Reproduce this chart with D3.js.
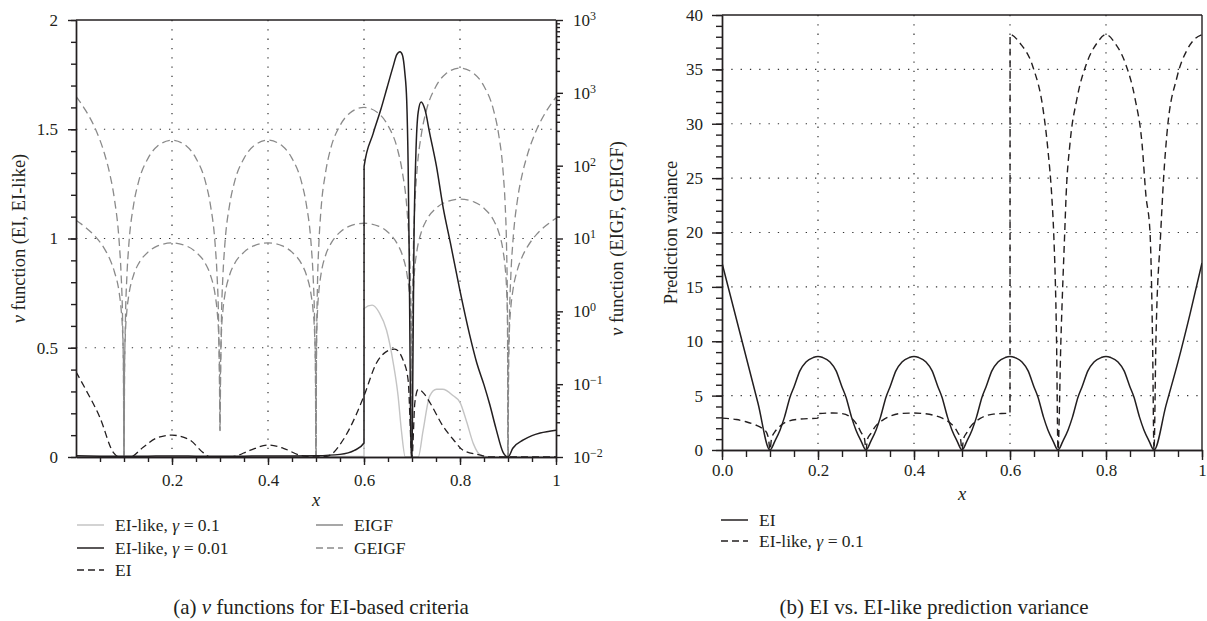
<!DOCTYPE html>
<html>
  <head>
    <meta charset="utf-8">
    <script type="text/javascript" src="https://cdn.jsdelivr.net/npm/d3@7"></script>
    <style type="text/css">
      body { margin: 0; background: #ffffff; }
      svg text { font-family: "Liberation Serif", "DejaVu Serif", serif; fill: #231f20; }
      .axis path, .axis line { fill: none; stroke: #231f20; stroke-width: 1.4; }
      .axis text { font-size: 17px; }
      .grid { stroke: #333333; stroke-width: 1.2; stroke-dasharray: 1.3,8; }
      .frame { stroke: #231f20; stroke-width: 1.4; }
    </style>
  </head>
  <body>
    <script type="text/javascript">
      // ---------------- panel (a) data ----------------
      // x samples shared by the EIGF / GEIGF curves (right, log axis)
      var gx = [0, 0.02, 0.04, 0.06, 0.07, 0.08, 0.09, 0.094, 0.097, 0.099, 0.1,
        0.101, 0.103, 0.106, 0.11, 0.12, 0.13, 0.15, 0.17, 0.2, 0.23, 0.25, 0.27, 0.28, 0.29, 0.294, 0.297, 0.299, 0.3,
        0.301, 0.303, 0.306, 0.31, 0.32, 0.33, 0.35, 0.37, 0.4, 0.43, 0.45, 0.47, 0.48, 0.49, 0.494, 0.497, 0.499, 0.5,
        0.501, 0.503, 0.506, 0.51, 0.52, 0.53, 0.55, 0.57, 0.6, 0.63, 0.65, 0.67, 0.68, 0.69, 0.694, 0.697, 0.699, 0.7,
        0.701, 0.703, 0.706, 0.71, 0.72, 0.73, 0.75, 0.77, 0.8, 0.83, 0.85, 0.87, 0.88, 0.89, 0.894, 0.897, 0.899, 0.9,
        0.901, 0.903, 0.906, 0.91, 0.92, 0.93, 0.94, 0.96, 0.98, 1];
      var geigf = [891, 575, 324, 141, 79, 35, 8.9, 3.2, 0.8, 0.089, 0.001,
        0.089, 0.78, 3.0, 8.1, 29, 59, 126, 186, 224, 186, 126, 59, 29, 8.1, 3.0, 0.78, 0.089, 0.023,
        0.089, 0.78, 3.0, 8.1, 29, 59, 126, 186, 224, 186, 126, 59, 29, 8.1, 3.0, 0.78, 0.089, 0.001,
        0.25, 2.2, 8.5, 23, 81, 166, 355, 525, 631, 525, 355, 166, 81, 23, 8.5, 2.2, 0.25, 0.001,
        0.87, 7.6, 30, 79, 282, 575, 1230, 1820, 2190, 1820, 1230, 575, 282, 79, 30, 7.6, 0.87, 0.001,
        0.087, 0.78, 3.2, 8.7, 35, 78, 138, 316, 562, 871];
      var eigf = [17.8, 14.2, 10.7, 7.1, 5.3, 3.5, 1.8, 1.07, 0.53, 0.18, 0.001,
        0.17, 0.51, 1.02, 1.66, 3.16, 4.47, 6.5, 7.9, 8.7, 7.9, 6.5, 4.47, 3.16, 1.66, 1.02, 0.51, 0.17, 0.023,
        0.17, 0.51, 1.02, 1.66, 3.16, 4.47, 6.5, 7.9, 8.7, 7.9, 6.5, 4.47, 3.16, 1.66, 1.02, 0.51, 0.17, 0.001,
        0.32, 0.95, 1.9, 3.1, 5.9, 8.3, 12.2, 14.8, 16.2, 14.8, 12.2, 8.3, 5.9, 3.1, 1.9, 0.95, 0.32, 0.001,
        0.69, 2.04, 4.07, 6.6, 12.6, 17.8, 26, 31.6, 34.7, 31.6, 26, 17.8, 12.6, 6.6, 4.07, 2.04, 0.69, 0.001,
        0.19, 0.57, 1.15, 1.9, 3.8, 5.7, 7.6, 11.5, 15.2, 19];

      // EI-like, gamma = 0.01 (left axis)
      var like001X = [0, 0.05, 0.1, 0.15, 0.2, 0.25, 0.3, 0.35, 0.4, 0.45, 0.5, 0.55, 0.58, 0.6, 0.6002,
        0.619, 0.635, 0.648, 0.661, 0.668, 0.675, 0.68, 0.685, 0.689, 0.692, 0.694, 0.696, 0.698, 0.7,
        0.702, 0.704, 0.708, 0.713, 0.719, 0.727, 0.737, 0.751, 0.765, 0.78, 0.8, 0.82, 0.835, 0.85, 0.862, 0.875, 0.89, 0.9,
        0.91, 0.932, 0.95, 0.967, 1];
      var like001Y = [0.006, 0.004, 0.003, 0.004, 0.005, 0.004, 0.003, 0.004, 0.005, 0.005, 0.006, 0.012, 0.03, 0.064, 1.33,
        1.48, 1.59, 1.69, 1.79, 1.84, 1.855, 1.84, 1.76, 1.63, 1.33, 0.96, 0.45, 0, 0,
        0.45, 0.96, 1.38, 1.58, 1.625, 1.59, 1.48, 1.33, 1.14, 0.98, 0.76, 0.56, 0.43, 0.33, 0.24, 0.13, 0.02, 0,
        0.04, 0.078, 0.098, 0.11, 0.123];

      // EI-like, gamma = 0.1 (left axis)
      var like01X = [0, 0.3, 0.6, 0.6002, 0.617, 0.632, 0.647, 0.661, 0.671, 0.678, 0.686, 0.713,
        0.723, 0.737, 0.751, 0.764, 0.786, 0.8, 0.814, 0.828, 0.842, 0.86, 1];
      var like01Y = [0.003, 0.003, 0.003, 0.68, 0.695, 0.66, 0.58, 0.43, 0.28, 0.12, 0, 0,
        0.12, 0.28, 0.31, 0.31, 0.28, 0.25, 0.16, 0.06, 0.01, 0, 0];

      // EI (left axis)
      var eiX = [0, 0.02, 0.05, 0.078, 0.09, 0.1, 0.113, 0.14, 0.168, 0.2, 0.237, 0.265, 0.28, 0.3,
        0.327, 0.362, 0.4, 0.432, 0.467, 0.5, 0.523, 0.557, 0.585, 0.6, 0.626, 0.645, 0.664, 0.682, 0.692, 0.7,
        0.706, 0.713, 0.725, 0.737, 0.765, 0.786, 0.807, 0.84, 0.86, 0.9, 1];
      var eiY = [0.39, 0.31, 0.18, 0.02, 0, 0, 0, 0.045, 0.087, 0.1, 0.078, 0.02, 0, 0,
        0.002, 0.03, 0.055, 0.04, 0.008, 0, 0.003, 0.08, 0.2, 0.28, 0.43, 0.48, 0.494, 0.44, 0.35, 0,
        0.25, 0.31, 0.29, 0.25, 0.14, 0.08, 0.03, 0.01, 0, 0, 0];

      var xTicksA = [0.2, 0.4, 0.6, 0.8, 1];
      var xLabelsA = ["0.2", "0.4", "0.6", "0.8", "1"];
      var yTicksA = [0, 0.5, 1, 1.5, 2];
      var yLabelsA = ["0", "0.5", "1", "1.5", "2"];
      var logTicks = [1e-2, 1e-1, 1e0, 1e1, 1e2, 1e3, 1e4];
      var logExponents = ["\u22122", "\u22121", "0", "1", "2", "3", "3"];

      // ---------------- panel (b) data ----------------
      var varEiX = [0, 0.025, 0.05, 0.075, 0.1,
        0.11, 0.121, 0.13, 0.142, 0.15, 0.1625, 0.175, 0.19, 0.2, 0.21, 0.225, 0.2375, 0.25, 0.258, 0.27, 0.279, 0.29, 0.3,
        0.31, 0.321, 0.33, 0.342, 0.35, 0.3625, 0.375, 0.39, 0.4, 0.41, 0.425, 0.4375, 0.45, 0.458, 0.47, 0.479, 0.49, 0.5,
        0.51, 0.521, 0.53, 0.542, 0.55, 0.5625, 0.575, 0.59, 0.6, 0.61, 0.625, 0.6375, 0.65, 0.658, 0.67, 0.679, 0.69, 0.7,
        0.71, 0.721, 0.73, 0.742, 0.75, 0.7625, 0.775, 0.79, 0.8, 0.81, 0.825, 0.8375, 0.85, 0.858, 0.87, 0.879, 0.89, 0.9,
        0.925, 0.95, 0.975, 1];
      var varEi = [17.2, 12.9, 8.6, 4.3, 0,
        0.8, 1.84, 3.0, 4.9, 5.8, 7.3, 8.1, 8.5, 8.6, 8.5, 8.1, 7.3, 5.8, 4.9, 3.0, 1.84, 0.8, 0,
        0.8, 1.84, 3.0, 4.9, 5.8, 7.3, 8.1, 8.5, 8.6, 8.5, 8.1, 7.3, 5.8, 4.9, 3.0, 1.84, 0.8, 0,
        0.8, 1.84, 3.0, 4.9, 5.8, 7.3, 8.1, 8.5, 8.6, 8.5, 8.1, 7.3, 5.8, 4.9, 3.0, 1.84, 0.8, 0,
        0.8, 1.84, 3.0, 4.9, 5.8, 7.3, 8.1, 8.5, 8.6, 8.5, 8.1, 7.3, 5.8, 4.9, 3.0, 1.84, 0.8, 0,
        4.1, 8.1, 12.5, 17.2];
      var varLikeX = [0, 0.03, 0.05, 0.07, 0.085, 0.093, 0.097, 0.1,
        0.103, 0.11, 0.12, 0.135, 0.163, 0.2, 0.2002, 0.231, 0.25, 0.265, 0.28, 0.29, 0.297, 0.3,
        0.303, 0.31, 0.32, 0.335, 0.35, 0.371, 0.4, 0.42, 0.44, 0.46, 0.475, 0.49, 0.497, 0.5,
        0.503, 0.51, 0.517, 0.538, 0.565, 0.6, 0.6002,
        0.621, 0.648, 0.669, 0.679, 0.6875, 0.691, 0.697, 0.7,
        0.706, 0.714, 0.717, 0.725, 0.739, 0.76, 0.781, 0.8,
        0.819, 0.84, 0.861, 0.875, 0.883, 0.8917, 0.897, 0.9,
        0.904, 0.914, 0.92, 0.927, 0.948, 0.969, 0.985, 1];
      var varLike = [2.93, 2.8, 2.6, 2.3, 1.95, 1.6, 1.0, 0,
        1.0, 1.66, 2.15, 2.6, 2.85, 2.93, 3.35, 3.4, 3.35, 3.1, 2.4, 1.6, 1.0, 0,
        1.0, 1.5, 2.2, 2.75, 3.1, 3.35, 3.4, 3.35, 3.2, 2.9, 2.5, 1.7, 1.0, 0,
        1.0, 1.6, 2.1, 2.9, 3.3, 3.4, 38.2,
        37.4, 35.2, 31.3, 27.6, 23, 20, 10, 0,
        10, 20, 23.5, 28.2, 32.2, 35.6, 37.4, 38.2,
        37.4, 35.6, 32.2, 28.2, 23.5, 20, 10, 0,
        10, 20, 25, 29.1, 34.3, 36.8, 37.8, 38.2];

      var xTicksB = [0, 0.2, 0.4, 0.6, 0.8, 1];
      var xLabelsB = ["0.0", "0.2", "0.4", "0.6", "0.8", "1"];
      var yTicksB = [0, 5, 10, 15, 20, 25, 30, 35, 40];
      var yLabelsB = ["0", "5", "10", "15", "20", "25", "30", "35", "40"];

      // colours
      var grey = "#8a8a8a";
      var lightGrey = "#c4c4c4";
      var black = "#231f20";

      // create SVG element
      var svg = d3.select("body")
        .append("svg")
        .attr("width", 1207)
        .attr("height", 621);

      // ======================= panel (a) =======================
      var xA = d3.scaleLinear().domain([0, 1]).range([76, 556]);
      var yA = d3.scaleLinear().domain([0, 2]).range([457, 20]);
      var yLog = d3.scaleLog().domain([1e-2, 1e4]).range([457, 20]);

      svg.append("clipPath").attr("id", "clipA")
        .append("rect").attr("x", 76).attr("y", 20).attr("width", 480).attr("height", 437);

      // dotted grid
      svg.selectAll(".gvA").data([0.2, 0.4, 0.6, 0.8]).enter().append("line")
        .attr("class", "grid")
        .attr("x1", function(d) { return xA(d); }).attr("x2", function(d) { return xA(d); })
        .attr("y1", 20).attr("y2", 457);
      svg.selectAll(".ghA").data([0.5, 1, 1.5]).enter().append("line")
        .attr("class", "grid")
        .attr("x1", 76).attr("x2", 556)
        .attr("y1", function(d) { return yA(d); }).attr("y2", function(d) { return yA(d); });

      // monotone curve keeps the vertical jumps sharp
      var smooth = d3.curveMonotoneX;
      var lineLin = d3.line().x(function(d) { return xA(d[0]); }).y(function(d) { return yA(d[1]); }).curve(smooth);
      var lineLog = d3.line().x(function(d) { return xA(d[0]); }).y(function(d) { return yLog(d[1]); }).curve(smooth);

      var plotA = svg.append("g").attr("clip-path", "url(#clipA)");

      plotA.append("path").datum(d3.zip(gx, geigf))
        .attr("d", lineLog).attr("fill", "none").attr("stroke", grey)
        .attr("stroke-width", 1.3).attr("stroke-dasharray", "8,4.5");
      plotA.append("path").datum(d3.zip(gx, eigf))
        .attr("d", lineLog).attr("fill", "none").attr("stroke", grey)
        .attr("stroke-width", 1.3).attr("stroke-dasharray", "8,4.5");
      plotA.append("path").datum(d3.zip(like01X, like01Y))
        .attr("d", lineLin).attr("fill", "none").attr("stroke", lightGrey).attr("stroke-width", 1.4);
      plotA.append("path").datum(d3.zip(eiX, eiY))
        .attr("d", lineLin).attr("fill", "none").attr("stroke", black)
        .attr("stroke-width", 1.3).attr("stroke-dasharray", "7,4");
      plotA.append("path").datum(d3.zip(like001X, like001Y))
        .attr("d", lineLin).attr("fill", "none").attr("stroke", black).attr("stroke-width", 1.5);

      // frame top
      svg.append("line").attr("class", "frame").attr("x1", 76).attr("x2", 556).attr("y1", 20).attr("y2", 20);

      // x axis (minor + major ticks)
      svg.append("g").attr("class", "axis").attr("transform", "translate(0,457)")
        .call(d3.axisBottom(xA).tickValues(d3.range(1, 21).map(function(i) { return i * 0.05; }))
          .tickSize(5).tickSizeOuter(0).tickFormat(""));
      svg.append("g").attr("class", "axis").attr("transform", "translate(0,457)")
        .call(d3.axisBottom(xA).tickValues(xTicksA).tickSize(8).tickSizeOuter(0).tickPadding(9)
          .tickFormat(function(d, i) { return xLabelsA[i]; }));

      // left y axis
      svg.append("g").attr("class", "axis").attr("transform", "translate(76,0)")
        .call(d3.axisLeft(yA).tickValues(d3.range(0, 21).map(function(i) { return i * 0.1; }))
          .tickSize(5).tickSizeOuter(0).tickFormat(""));
      svg.append("g").attr("class", "axis").attr("transform", "translate(76,0)")
        .call(d3.axisLeft(yA).tickValues(yTicksA).tickSize(8).tickSizeOuter(0).tickPadding(10)
          .tickFormat(function(d, i) { return yLabelsA[i]; }));

      // right log axis
      var minorLog = [];
      for (var k = -2; k < 4; k++) {
        for (var m = 2; m < 10; m++) { minorLog.push(m * Math.pow(10, k)); }
      }
      svg.append("g").attr("class", "axis").attr("transform", "translate(556,0)")
        .call(d3.axisRight(yLog).tickValues(minorLog).tickSize(4).tickSizeOuter(0).tickFormat(""));
      svg.append("g").attr("class", "axis").attr("transform", "translate(556,0)")
        .call(d3.axisRight(yLog).tickValues(logTicks).tickSize(7).tickSizeOuter(0).tickFormat(""));

      svg.selectAll(".logLabel").data(logTicks).enter().append("text")
        .attr("x", 573)
        .attr("y", function(d) { return yLog(d); })
        .attr("dy", "0.35em")
        .style("font-size", "17px")
        .each(function(d, i) {
          var t = d3.select(this);
          t.append("tspan").text("10");
          t.append("tspan").attr("dy", "-0.5em").style("font-size", "12px").text(logExponents[i]);
        });

      // axis titles
      svg.append("text")
        .attr("transform", "translate(25,238.5)rotate(-90)")
        .attr("text-anchor", "middle").style("font-size", "18.5px")
        .html('<tspan font-style="italic">\u03bd</tspan> function (EI, EI-like)');
      svg.append("text")
        .attr("transform", "translate(623,238.5)rotate(-90)")
        .attr("text-anchor", "middle").style("font-size", "18.5px")
        .html('<tspan font-style="italic">\u03bd</tspan> function (EIGF, GEIGF)');
      svg.append("text")
        .attr("x", 316).attr("y", 506)
        .attr("text-anchor", "middle").style("font-size", "18.5px").style("font-style", "italic")
        .text("x");

      // legend (a)
      var legendA = [
        { label: "EI-like, ", g: "0.1", color: lightGrey, dash: null, x: 77, y: 525 },
        { label: "EI-like, ", g: "0.01", color: black, dash: null, x: 77, y: 548 },
        { label: "EI", g: null, color: black, dash: "7,4", x: 77, y: 570 },
        { label: "EIGF", g: null, color: grey, dash: null, x: 316, y: 525 },
        { label: "GEIGF", g: null, color: grey, dash: "7,4", x: 316, y: 548 }
      ];
      drawLegend(legendA);

      svg.append("text")
        .attr("x", 321).attr("y", 614)
        .attr("text-anchor", "middle").style("font-size", "21px")
        .html('(a) <tspan font-style="italic">\u03bd</tspan> functions for EI-based criteria');

      // ======================= panel (b) =======================
      var xB = d3.scaleLinear().domain([0, 1]).range([722, 1202]);
      var yB = d3.scaleLinear().domain([0, 40]).range([450, 15]);

      svg.append("clipPath").attr("id", "clipB")
        .append("rect").attr("x", 722).attr("y", 15).attr("width", 480).attr("height", 435);

      svg.selectAll(".gvB").data([0.2, 0.4, 0.6, 0.8]).enter().append("line")
        .attr("class", "grid")
        .attr("x1", function(d) { return xB(d); }).attr("x2", function(d) { return xB(d); })
        .attr("y1", 15).attr("y2", 450);
      svg.selectAll(".ghB").data([5, 10, 15, 20, 25, 30, 35]).enter().append("line")
        .attr("class", "grid")
        .attr("x1", 722).attr("x2", 1202)
        .attr("y1", function(d) { return yB(d); }).attr("y2", function(d) { return yB(d); });

      var lineB = d3.line().x(function(d) { return xB(d[0]); }).y(function(d) { return yB(d[1]); }).curve(smooth);
      var plotB = svg.append("g").attr("clip-path", "url(#clipB)");

      plotB.append("path").datum(d3.zip(varEiX, varEi))
        .attr("d", lineB).attr("fill", "none").attr("stroke", black).attr("stroke-width", 1.5);
      plotB.append("path").datum(d3.zip(varLikeX, varLike))
        .attr("d", lineB).attr("fill", "none").attr("stroke", black)
        .attr("stroke-width", 1.4).attr("stroke-dasharray", "7,4.5");

      // frame top and right
      svg.append("line").attr("class", "frame").attr("x1", 722).attr("x2", 1202).attr("y1", 15).attr("y2", 15);
      svg.append("line").attr("class", "frame").attr("x1", 1202).attr("x2", 1202).attr("y1", 15).attr("y2", 450);

      svg.append("g").attr("class", "axis").attr("transform", "translate(0,450)")
        .call(d3.axisBottom(xB).tickValues(d3.range(0, 21).map(function(i) { return i * 0.05; }))
          .tickSize(7).tickSizeOuter(0).tickFormat(""));
      svg.append("g").attr("class", "axis").attr("transform", "translate(0,450)")
        .call(d3.axisBottom(xB).tickValues(xTicksB).tickSize(10).tickSizeOuter(0).tickPadding(4)
          .tickFormat(function(d, i) { return xLabelsB[i]; }));

      svg.append("g").attr("class", "axis").attr("transform", "translate(722,0)")
        .call(d3.axisLeft(yB).tickValues(d3.range(0, 41)).tickSize(6).tickSizeOuter(0).tickFormat(""));
      svg.append("g").attr("class", "axis").attr("transform", "translate(722,0)")
        .call(d3.axisLeft(yB).tickValues(yTicksB).tickSize(10).tickSizeOuter(0).tickPadding(9)
          .tickFormat(function(d, i) { return yLabelsB[i]; }));

      svg.append("text")
        .attr("transform", "translate(677,232.5)rotate(-90)")
        .attr("text-anchor", "middle").style("font-size", "18.5px")
        .text("Prediction variance");
      svg.append("text")
        .attr("x", 962).attr("y", 500)
        .attr("text-anchor", "middle").style("font-size", "18.5px").style("font-style", "italic")
        .text("x");

      var legendB = [
        { label: "EI", g: null, color: black, dash: null, x: 721, y: 520 },
        { label: "EI-like, ", g: "0.1", color: black, dash: "7,4", x: 721, y: 541 }
      ];
      drawLegend(legendB);

      svg.append("text")
        .attr("x", 934).attr("y", 614)
        .attr("text-anchor", "middle").style("font-size", "21px")
        .text("(b) EI vs. EI-like prediction variance");

      // legend helper: short line sample plus label
      function drawLegend(items) {
        items.forEach(function(it) {
          svg.append("line")
            .attr("x1", it.x).attr("x2", it.x + 27)
            .attr("y1", it.y).attr("y2", it.y)
            .attr("stroke", it.color).attr("stroke-width", 1.5)
            .attr("stroke-dasharray", it.dash);
          var t = svg.append("text")
            .attr("x", it.x + 38).attr("y", it.y).attr("dy", "0.33em")
            .style("font-size", "17.5px");
          t.append("tspan").text(it.label);
          if (it.g) {
            t.append("tspan").style("font-style", "italic").text("\u03b3");
            t.append("tspan").text(" = " + it.g);
          }
        });
      }
    </script>
  </body>
</html>
